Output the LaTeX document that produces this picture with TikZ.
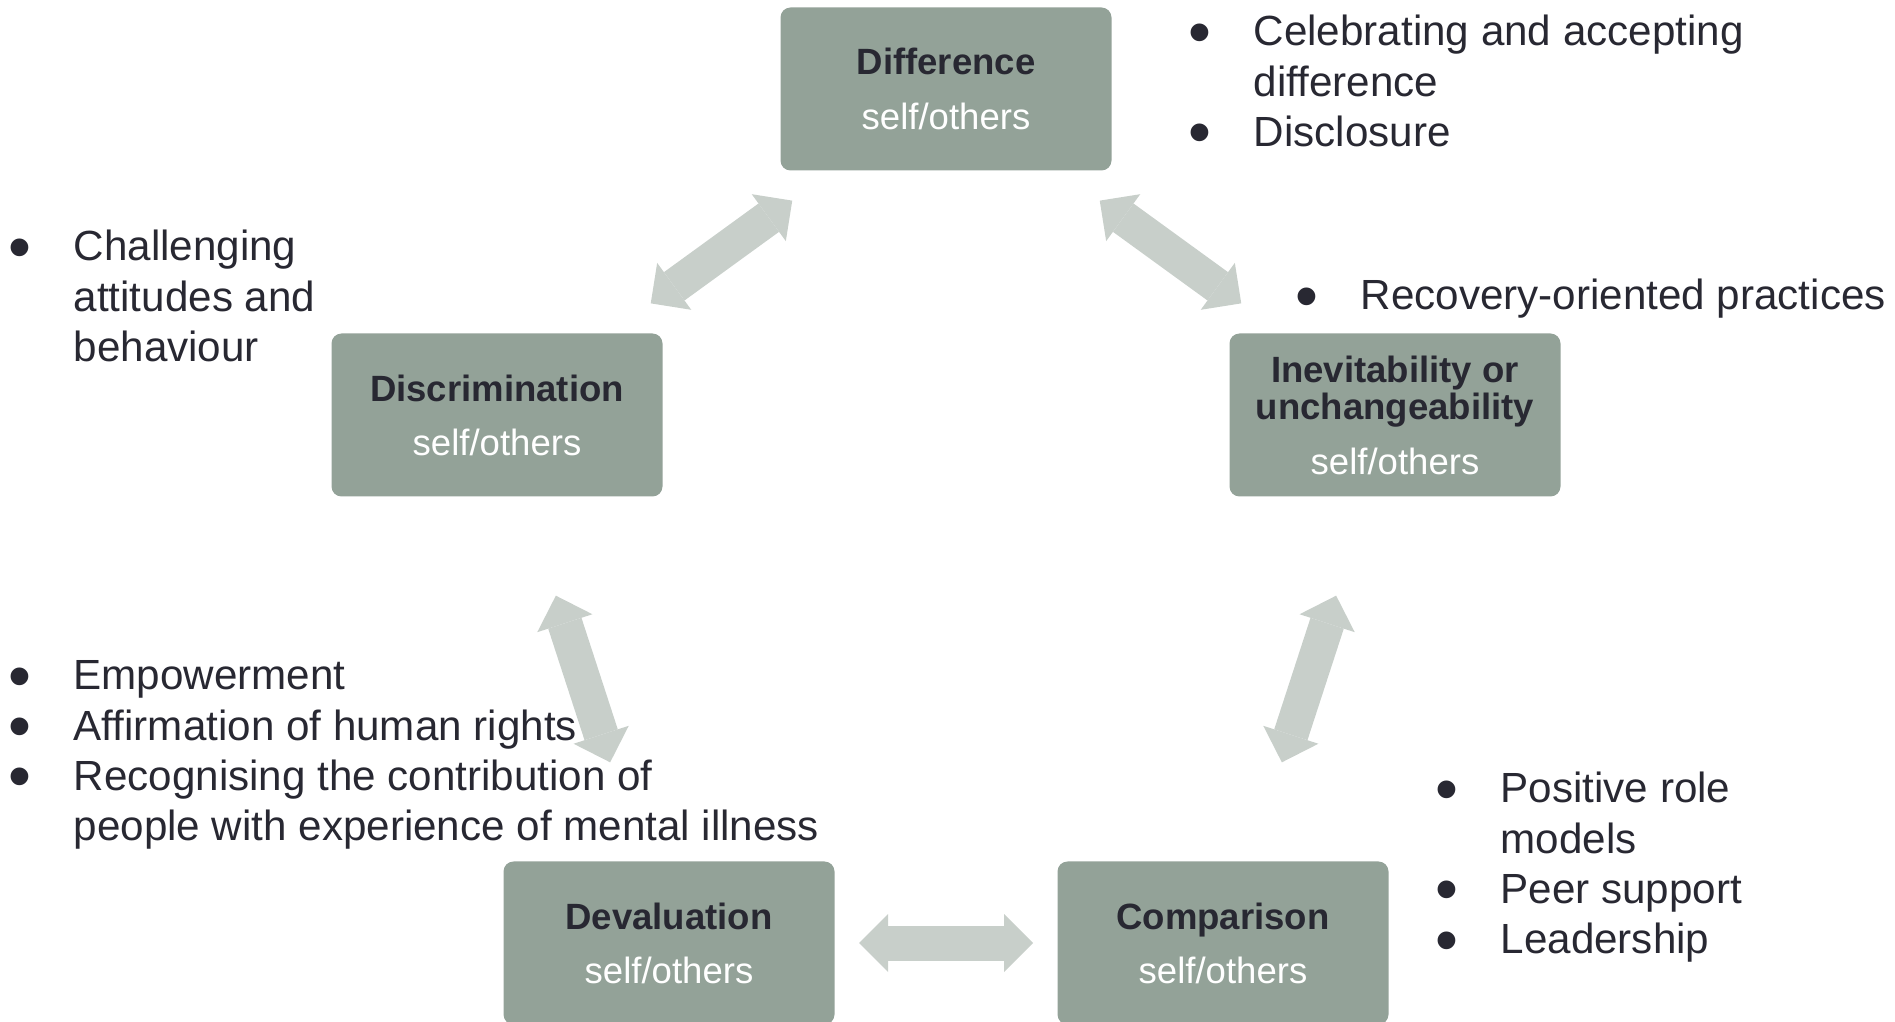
\documentclass[tikz,border=0pt]{standalone}
\usepackage{fontspec}
\usepackage{graphicx}
\setmainfont{Liberation Sans}
\usetikzlibrary{arrows.meta}

\definecolor{boxgreen}{RGB}{147,162,152}
\definecolor{linkgrey}{RGB}{200,207,202}
\definecolor{ink}{RGB}{40,40,50}

% a larger bullet, set back to the text's middle
\newcommand{\dotmark}{\hspace*{-0.045cm}\smash{\raisebox{-2.4pt}{\scalebox{1.55}{\textbullet}}}}

\begin{document}
\begin{tikzpicture}[
		stage/.style={rectangle, rounded corners=0.1cm, fill=boxgreen, minimum width=3.31cm, minimum height=1.63cm,
			inner sep=0pt, align=center, text=ink, font=\fontsize{10.4}{15.4}\selectfont},
		link/.style={draw=linkgrey, line width=0.35cm, shorten <=1.9cm, shorten >=1.9cm,
			>={Triangle[length=0.29cm,width=0.58cm,line width=0pt]}, <->},
		notes/.style={anchor=base west, inner sep=0pt, text=ink, font=\fontsize{12}{14.3}\selectfont}]
	\useasboundingbox (0,0) rectangle (18.95,10.21);
	%% the five stages
	\node[stage] (diff) at (9.46,9.32) {\textbf{Difference}\\\textcolor{white}{self/others}};
	\node[stage] (disc) at (4.97,6.06) {\textbf{Discrimination}\\\textcolor{white}{self/others}};
	\node[stage] (inev) at (13.95,6.06) {\textbf{Inevitability or}\\[-4.6pt]\textbf{unchangeability}\\\textcolor{white}{self/others}};
	\node[stage] (deval) at (6.69,0.78) {\textbf{Devaluation}\\\textcolor{white}{self/others}};
	\node[stage] (comp) at (12.23,0.78) {\textbf{Comparison}\\\textcolor{white}{self/others}};
	%% two-way links round the cycle
	\draw[link] (diff.center) -- (disc.center);
	\draw[link] (disc.center) -- (deval.center);
	\draw[link] (deval.center) -- (comp.center);
	\draw[link] (comp.center) -- (inev.center);
	\draw[link] (inev.center) -- (diff.center);
	%% what helps at each stage
	\node[notes] (celebr) at (11.92,9.75) {\begin{tabular}[t]{@{}p{0.61cm}@{}l@{}}
		\dotmark & Celebrating and accepting\\
		& difference\\
		\dotmark & Disclosure
	\end{tabular}};
	\node[notes] (recov) at (12.99,7.11) {\begin{tabular}[t]{@{}p{0.61cm}@{}l@{}}
		\dotmark & Recovery-oriented practices
	\end{tabular}};
	\node[notes] (challen) at (0.12,7.60) {\begin{tabular}[t]{@{}p{0.61cm}@{}l@{}}
		\dotmark & Challenging\\
		& attitudes and\\
		& behaviour
	\end{tabular}};
	\node[notes] (empow) at (0.12,3.31) {\begin{tabular}[t]{@{}p{0.61cm}@{}l@{}}
		\dotmark & Empowerment\\
		\dotmark & Affirmation of human rights\\
		\dotmark & Recognising the contribution of\\
		& people with experience of mental illness
	\end{tabular}};
	\node[notes] (rolemod) at (14.39,2.18) {\begin{tabular}[t]{@{}p{0.61cm}@{}l@{}}
		\dotmark & Positive role\\
		& models\\
		\dotmark & Peer support\\
		\dotmark & Leadership
	\end{tabular}};
\end{tikzpicture}
\end{document}
